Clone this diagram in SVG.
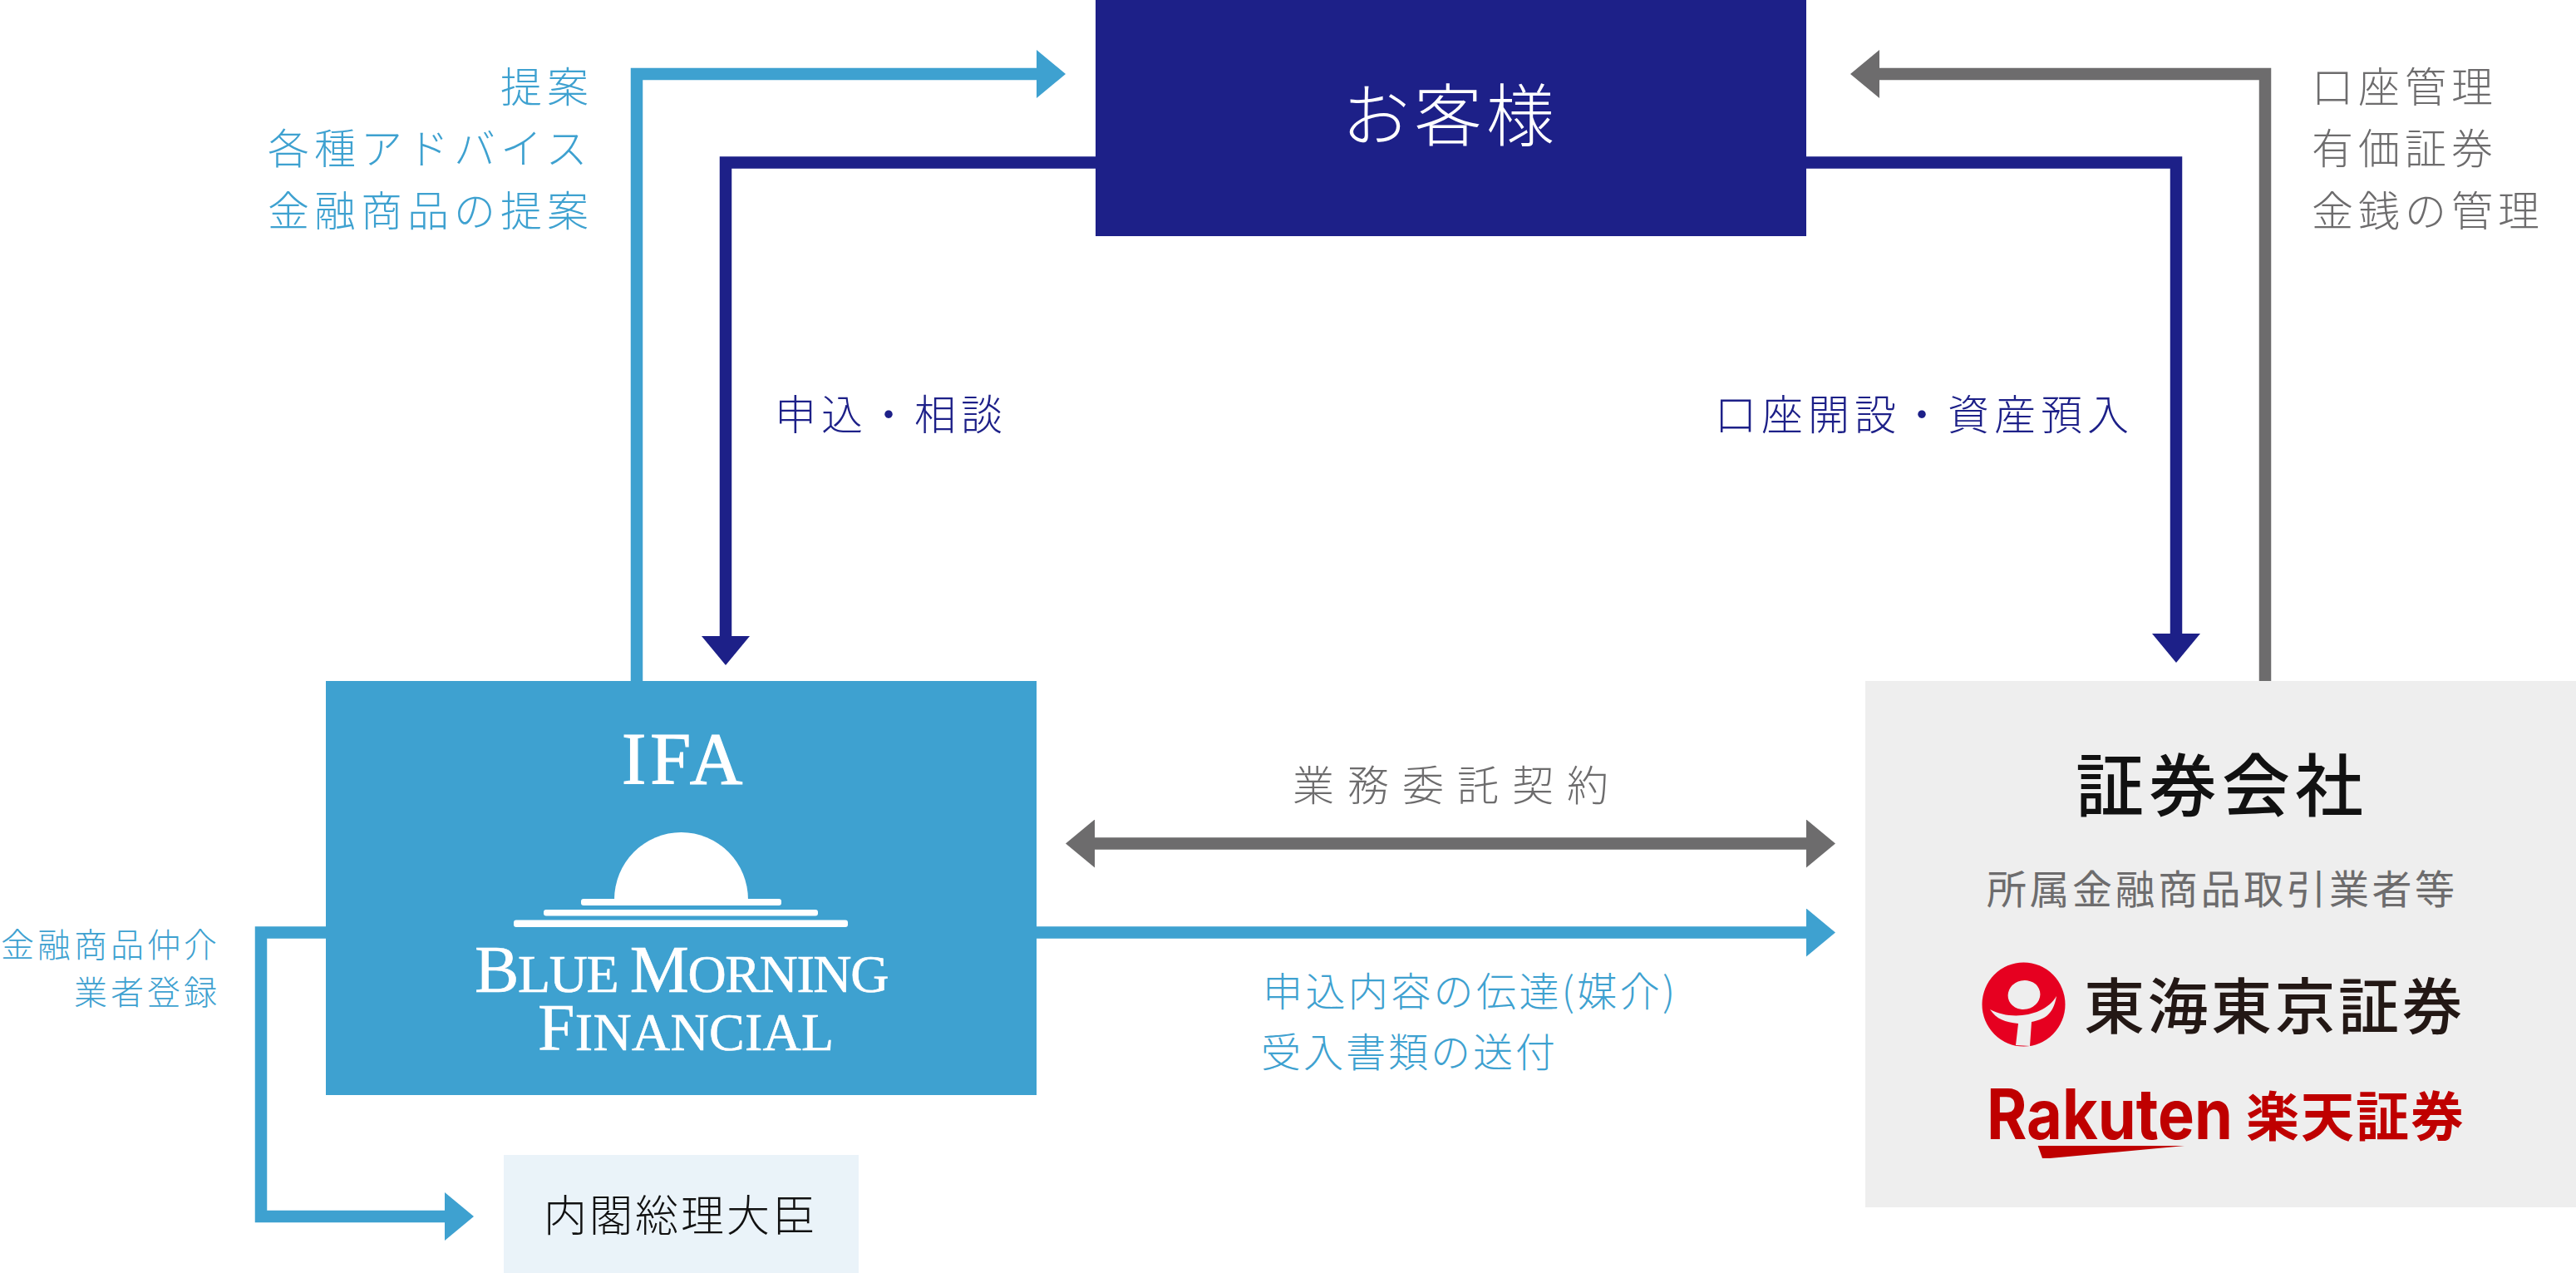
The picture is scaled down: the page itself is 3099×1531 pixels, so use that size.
<svg xmlns="http://www.w3.org/2000/svg" width="3099" height="1531" viewBox="0 0 3099 1531">
<style>
text{font-family:"Noto Sans CJK JP","Noto Sans",sans-serif;font-weight:300}
.c{fill:none;stroke-width:14.5;stroke-linejoin:miter}
.blue{stroke:#3ea1d0}.navy{stroke:#1d2088}.gray{stroke:#6d6c6d}
.tb{fill:#3ea1d0}.tn{fill:#1d2088}.tg{fill:#6d6c6d}
.f50{font-size:50px;letter-spacing:6px}
.f48{font-size:48px;letter-spacing:3px}
.f40{font-size:40px;letter-spacing:4px}
.lat{font-family:"Liberation Serif",serif;font-weight:400;fill:#fff}
.bar{fill:#fff}
</style>
<defs>
<marker id="hb" markerUnits="userSpaceOnUse" markerWidth="36" markerHeight="58" refX="0" refY="29" orient="auto-start-reverse"><path d="M0 0L35 29L0 58Z" fill="#3ea1d0"/></marker>
<marker id="hn" markerUnits="userSpaceOnUse" markerWidth="36" markerHeight="58" refX="0" refY="29" orient="auto-start-reverse"><path d="M0 0L35 29L0 58Z" fill="#1d2088"/></marker>
<marker id="hg" markerUnits="userSpaceOnUse" markerWidth="36" markerHeight="58" refX="0" refY="29" orient="auto-start-reverse"><path d="M0 0L35 29L0 58Z" fill="#6d6c6d"/></marker>
</defs>
<rect width="3099" height="1531" fill="#fff"/>
<g id="connectors">
<path class="c blue" d="M766 819V89H1247" marker-end="url(#hb)"/>
<path class="c navy" d="M1318 195.500H873V765" marker-end="url(#hn)"/>
<path class="c navy" d="M2173 195.500H2618V762" marker-end="url(#hn)"/>
<path class="c gray" d="M2725 819V89H2261" marker-end="url(#hg)"/>
<path class="c gray" d="M1317 1014.500H2173" marker-start="url(#hg)" marker-end="url(#hg)"/>
<path class="c blue" d="M1247 1121.500H2173" marker-end="url(#hb)"/>
<path class="c blue" d="M392 1121.500H314V1463H535" marker-end="url(#hb)"/>
</g>
<g id="node-customer">
<rect x="1318" y="0" width="855" height="284" fill="#1d2088"/>
<text x="1614" y="169" fill="#fff" font-size="82" letter-spacing="5">お客様</text>
</g>
<g id="node-ifa">
<rect x="392" y="819" width="855" height="498" fill="#3ea1d0"/>
<text class="lat" x="748" y="942" font-size="88" letter-spacing="5" stroke="#fff" stroke-width="1.200">IFA</text>
<path class="bar" d="M739 1082A80.500 81 0 0 1 900 1082Z"/>
<rect class="bar" x="699" y="1081" width="241" height="8" rx="3"/>
<rect class="bar" x="654" y="1094" width="330" height="7.500" rx="3"/>
<rect class="bar" x="618" y="1106.500" width="402" height="8.500" rx="3"/>
<text class="lat" font-size="64" stroke="#fff" stroke-width="0.600"><tspan x="571" y="1193" letter-spacing="-1.400"><tspan font-size="80">B</tspan>LUE <tspan font-size="80">M</tspan>ORNING</tspan><tspan x="647" y="1263" letter-spacing="0.300"><tspan font-size="80">F</tspan>INANCIAL</tspan></text>
</g>
<g id="node-securities">
<rect x="2244" y="819" width="855" height="633" fill="#eee"/>
<text x="2497" y="975" fill="#111" font-size="82" letter-spacing="6" style="font-weight:500">証券会社</text>
<text class="tg" x="2390" y="1087" font-size="48" letter-spacing="3.500" style="font-weight:400">所属金融商品取引業者等</text>
<g id="logo-tokai">
<ellipse cx="2434.500" cy="1208" rx="50" ry="50.500" fill="#e60020"/>
<ellipse cx="2435" cy="1196.500" rx="19.500" ry="17.500" fill="#eee" transform="rotate(-12 2435 1196.500)"/>
<path d="M2394 1214C2420 1228 2460 1222 2474 1198C2470 1222 2458 1226 2444 1229L2442 1258L2425 1257L2428 1231C2412 1229 2402 1226 2394 1214Z" fill="#eee"/>
<text x="2507" y="1237" fill="#231815" font-size="73" letter-spacing="3.500" style="font-weight:500">東海東京証券</text>
</g>
<g id="logo-rakuten">
<text x="2390" y="1370" fill="#bf0000" font-size="84" textLength="296" lengthAdjust="spacingAndGlyphs" style="font-family:Inter,'Liberation Sans',sans-serif;font-weight:700">Rakuten</text>
<path d="M2451.700 1378H2628L2466 1393L2457 1393Z" fill="#bf0000"/>
<text x="2702" y="1366" fill="#bf0000" font-size="64" letter-spacing="2" style="font-weight:700">楽天証券</text>
</g>
</g>
<g id="node-minister">
<rect x="606" y="1389" width="427" height="142" fill="#eaf3f9"/>
<text x="654" y="1481" fill="#111" font-size="52" letter-spacing="3">内閣総理大臣</text>
</g>
<g id="labels">
<text class="tb f50" x="602" y="122.500">提案</text>
<text class="tb f50" x="322" y="197">各種アドバイス</text>
<text class="tb f50" x="322" y="271.500">金融商品の提案</text>
<text class="tg f50" x="2781" y="122.500">口座管理</text>
<text class="tg f50" x="2781" y="197">有価証券</text>
<text class="tg f50" x="2781" y="271.500">金銭の管理</text>
<text class="tn f50" x="932" y="517">申込・相談</text>
<text class="tn f50" x="2063" y="517">口座開設・資産預入</text>
<text class="tg" x="1555" y="963" font-size="50" letter-spacing="16">業務委託契約</text>
<text class="tb" x="1519" y="1210" font-size="48" letter-spacing="3.400">申込内容の伝達(媒介)</text>
<text class="tb f48" x="1517" y="1283">受入書類の送付</text>
<text class="tb f40" x="1" y="1151">金融商品仲介</text>
<text class="tb f40" x="89" y="1208">業者登録</text>
</g>
</svg>
